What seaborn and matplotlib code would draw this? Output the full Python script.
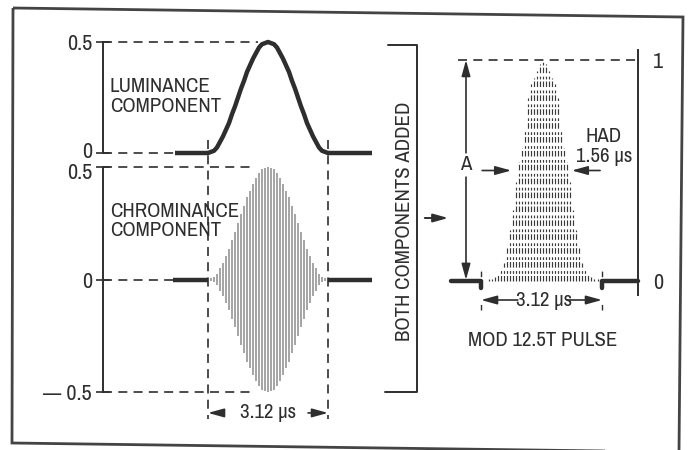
import numpy as np
import pandas as pd
import matplotlib
matplotlib.use("Agg")
import matplotlib.pyplot as plt
import matplotlib.transforms as mtransforms
import seaborn as sns
from matplotlib.patches import Polygon, FancyArrowPatch
from matplotlib.lines import Line2D

# ---------------- data ----------------
PULSE_WIDTH_US = 3.12          # full base width of the 12.5T pulse
HAD_US = 1.56                  # half-amplitude duration
SAMPLE_STEP_US = 0.078         # spacing of the carrier strokes
# relative envelope of the component pulses (0..1), one value per sample step
ENVELOPE = [0.00, 0.01, 0.02, 0.05, 0.10, 0.15, 0.21, 0.27, 0.35, 0.42,
            0.50, 0.58, 0.65, 0.73, 0.79, 0.85, 0.90, 0.95, 0.98, 0.99,
            1.00, 0.99, 0.98, 0.95, 0.90, 0.85, 0.79, 0.73, 0.65, 0.58,
            0.50, 0.42, 0.35, 0.27, 0.21, 0.15, 0.10, 0.05, 0.02, 0.01, 0.00]
# relative height of the added (modulated 12.5T) pulse, same sample steps
MOD_ENVELOPE = [0.00, 0.00, 0.01, 0.01, 0.02, 0.03, 0.05, 0.08, 0.15, 0.23,
                0.32, 0.45, 0.54, 0.60, 0.69, 0.83, 0.89, 0.92, 0.95, 0.98,
                1.00, 0.98, 0.95, 0.92, 0.89, 0.83, 0.69, 0.60, 0.54, 0.45,
                0.32, 0.23, 0.15, 0.08, 0.05, 0.03, 0.02, 0.01, 0.01, 0.00, 0.00]
LUMA_PEAK = 0.5
CHROMA_PEAK = 0.5
LUMA_TICKS = [0, 0.5]
LUMA_LABELS = ["0", "0.5"]
CHROMA_TICKS = [-0.5, 0, 0.5]
CHROMA_LABELS = ["\u2014 0.5", "0", "0.5"]
MOD_TICKS = [0, 1]
MOD_LABELS = ["0", "1"]

# ---------------- style ----------------
sns.set_theme(style="white")
plt.rcParams["font.family"] = ["Archivo Narrow", "Roboto Condensed", "DejaVu Sans"]
plt.rcParams["lines.scale_dashes"] = False
INK = "#2e2e2e"
GREY = "#8c8c8c"
DASH = (0, (6.5, 4.5))
FS = 15
TFS = 16

W, H = 688, 450
fig = plt.figure(figsize=(W / 100, H / 100), dpi=100)
fig.patch.set_facecolor("white")


def box(x0, y0, x1, y1):
    return [x0 / W, 1 - y1 / H, (x1 - x0) / W, (y1 - y0) / H]


def fp(x, y):
    return (x / W, 1 - y / H)


t = np.arange(len(ENVELOPE)) * SAMPLE_STEP_US
env = np.array(ENVELOPE)
luma = LUMA_PEAK * env
chroma_env = CHROMA_PEAK * env
mod = np.array(MOD_ENVELOPE)

# left panel time scale: pulse start at x=208px, end at x=328px
S = 120 / PULSE_WIDTH_US
XL = ((103 - 208) / S, (372 - 208) / S)

ax_l = fig.add_axes(box(103, 42, 372, 153))
ax_c = fig.add_axes(box(103, 167, 372, 392))
S2 = 121 / PULSE_WIDTH_US
ax_m = fig.add_axes(box(451, 50, 638, 295))

for ax in (ax_l, ax_c, ax_m):
    ax.set_facecolor("none")
    for s in ("top", "bottom", "right", "left"):
        ax.spines[s].set_visible(False)
    ax.set_xticks([])

for ax, ticks, labels, lim in ((ax_l, LUMA_TICKS, LUMA_LABELS, (0, 0.5)),
                               (ax_c, CHROMA_TICKS, CHROMA_LABELS, (-0.5, 0.5))):
    ax.set_xlim(*XL)
    ax.set_ylim(*lim)
    ax.spines["left"].set_visible(True)
    ax.spines["left"].set_color(INK)
    ax.spines["left"].set_linewidth(1.4)
    ax.set_yticks(ticks)
    ax.set_yticklabels(labels)
    ax.tick_params(axis="y", direction="inout", length=10, width=1.2,
                   color=INK, labelcolor=INK, labelsize=TFS, pad=3, left=True)

# keep the close "0" / "0.5" labels between the two panels apart
up = mtransforms.ScaledTranslation(0, 3 / 100, fig.dpi_scale_trans)
down = mtransforms.ScaledTranslation(0, -4 / 100, fig.dpi_scale_trans)
lab0 = ax_l.get_yticklabels()[0]
lab0.set_transform(lab0.get_transform() + up)
lab5 = ax_c.get_yticklabels()[-1]
lab5.set_transform(lab5.get_transform() + down)

# ---- luminance component ----
sns.lineplot(x=t, y=luma, ax=ax_l, color=INK, linewidth=3.2)
ax_l.plot([-0.86, 0], [0, 0], color=INK, lw=3.2, solid_capstyle="butt")
ax_l.plot([PULSE_WIDTH_US, XL[1]], [0, 0], color=INK, lw=3.2, solid_capstyle="butt")
ax_l.plot([XL[0], 1.3], [LUMA_PEAK, LUMA_PEAK], color=INK, lw=1.2, ls=DASH)
ax_l.plot([XL[0], -0.86], [0, 0], color=INK, lw=1.2, ls=DASH)
for ln in ax_l.lines:
    ln.set_clip_on(False)
ax_l.text(-2.55, 0.255, "LUMINANCE\nCOMPONENT", fontsize=FS, color=INK,
          ha="left", va="center", linespacing=1.05)

# ---- chrominance component ----
ax_c.vlines(t, -chroma_env, chroma_env, color=GREY, lw=1.1)
ax_c.plot([-0.91, 0], [0, 0], color=INK, lw=3.2, solid_capstyle="butt")
ax_c.plot([PULSE_WIDTH_US, XL[1]], [0, 0], color=INK, lw=3.2, solid_capstyle="butt")
for yv in (CHROMA_PEAK, -CHROMA_PEAK):
    ax_c.plot([XL[0], 1.22], [yv, yv], color=INK, lw=1.2, ls=DASH)
ax_c.plot([XL[0], -0.91], [0, 0], color=INK, lw=1.2, ls=DASH)
for tv in (0, PULSE_WIDTH_US):
    ax_c.plot([tv, tv], [0.62, -0.62], color=INK, lw=1.2, ls=DASH)
for ln in ax_c.lines:
    ln.set_clip_on(False)
for c in ax_c.collections:
    c.set_clip_on(False)
ax_c.text(-2.55, 0.26, "CHROMINANCE\nCOMPONENT", fontsize=FS, color=INK,
          ha="left", va="center", linespacing=1.05)

arrow_kw = dict(arrowstyle="-|>,head_length=0.8,head_width=0.22",
                color=INK, lw=1.2, shrinkA=0, shrinkB=0)
yw = -0.593
ax_c.annotate("", xy=(0, yw), xytext=(0.42, yw), arrowprops=arrow_kw,
              annotation_clip=False)
ax_c.annotate("", xy=(PULSE_WIDTH_US, yw), xytext=(2.6, yw), arrowprops=arrow_kw,
              annotation_clip=False)
ax_c.text(PULSE_WIDTH_US / 2, yw, "3.12 \u00b5s", fontsize=FS, color=INK,
          ha="center", va="center")

# ---- both components added (modulated 12.5T pulse) ----
XM = ((451 - 481) / S2, (638 - 481) / S2)
ax_m.set_xlim(*XM)
ax_m.set_ylim(-14 / 221, 1 + 10 / 221)
ax_m.spines["right"].set_visible(True)
ax_m.spines["right"].set_color(INK)
ax_m.spines["right"].set_linewidth(1.4)
ax_m.yaxis.tick_right()
ax_m.set_yticks(MOD_TICKS)
ax_m.set_yticklabels(MOD_LABELS)
ax_m.tick_params(axis="y", length=0, pad=11, labelsize=TFS, labelcolor=INK,
                 right=True, left=False)

ax_m.vlines(t + 0.04, 0, mod, color="#3a3a3a", lw=0.85,
            linestyles=[(0, (4, 1.5, 2, 2.5))])
ax_m.plot([XM[0], 0, 0], [0, 0, -0.03], color=INK, lw=3.2)
ax_m.plot([PULSE_WIDTH_US, PULSE_WIDTH_US, XM[1]], [-0.03, 0, 0], color=INK, lw=3.2)
ax_m.plot([(458 - 481) / S2, XM[1]], [1, 1], color=INK, lw=1.2, ls=DASH)
for tv in (0, PULSE_WIDTH_US):
    ax_m.plot([tv, tv], [-0.13, 0.09], color=INK, lw=1.0, ls=(0, (4, 20)))
for ln in ax_m.lines:
    ln.set_clip_on(False)

tA = (466 - 481) / S2
ax_m.annotate("", xy=(tA, 1.0), xytext=(tA, 0.58), arrowprops=arrow_kw,
              annotation_clip=False)
ax_m.annotate("", xy=(tA, 0.005), xytext=(tA, 0.47), arrowprops=arrow_kw,
              annotation_clip=False)
ax_m.text(tA, 0.525, "A", fontsize=FS, color=INK, ha="center", va="center")

ax_m.annotate("", xy=(HAD_US / 2, 0.5), xytext=(0.03, 0.5), arrowprops=arrow_kw,
              annotation_clip=False)
ax_m.annotate("", xy=(PULSE_WIDTH_US - HAD_US / 2, 0.5), xytext=(3.07, 0.5),
              arrowprops=arrow_kw, annotation_clip=False)
ax_m.text((604 - 481) / S2, 0.61, "HAD\n1.56 \u00b5s", fontsize=FS, color=INK,
          ha="center", va="center", linespacing=1.05)

ym = -0.086
ax_m.annotate("", xy=(0, ym), xytext=(0.95, ym), arrowprops=arrow_kw,
              annotation_clip=False)
ax_m.annotate("", xy=(PULSE_WIDTH_US, ym), xytext=(2.22, ym), arrowprops=arrow_kw,
              annotation_clip=False)
ax_m.text(1.62, ym, "3.12 \u00b5s", fontsize=FS, color=INK, ha="center", va="center")

fig.text(*fp(543, 340), "MOD 12.5T PULSE", fontsize=FS, color=INK,
         ha="center", va="center")

# ---- bracket, arrow and frame ----
bx = [388, 417, 417, 385]
by = [45, 45, 392, 392]
fig.add_artist(Line2D([x / W for x in bx], [1 - y / H for y in by],
                      color=INK, lw=1.4, transform=fig.transFigure))
fig.text(*fp(404, 221), "BOTH COMPONENTS ADDED", fontsize=FS, color=INK,
         rotation=90, ha="center", va="center")
fig.add_artist(FancyArrowPatch(fp(422, 218), fp(451, 218),
                               transform=fig.transFigure,
                               arrowstyle="-|>,head_length=0.9,head_width=0.25",
                               mutation_scale=10, color=INK, lw=1.4))
frame = [(13, 8), (683, 17), (679, 452), (12, 443)]
fig.add_artist(Polygon([fp(x, y) for x, y in frame], closed=True, fill=False,
                       edgecolor="#444444", lw=2.0, transform=fig.transFigure))

fig.savefig("out.png", dpi=100, facecolor="white")
